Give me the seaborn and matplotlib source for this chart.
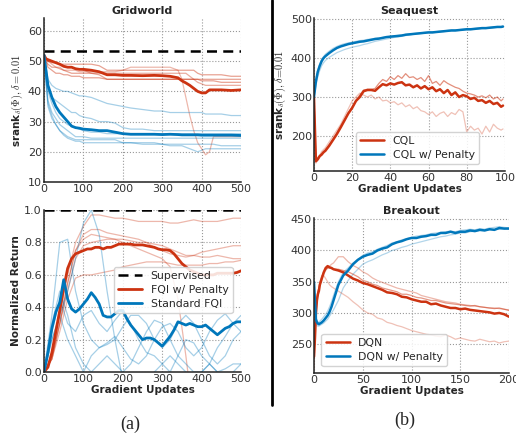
import matplotlib
matplotlib.use("Agg")
import matplotlib.pyplot as plt
import seaborn as sns
import numpy as np

# ---------------- DATA ----------------
RED = "#CC3311"
BLUE = "#0077BB"

# Gridworld srank
GW_X = [0, 5, 10, 20, 30, 40, 50, 60, 70, 80, 90, 100, 120, 140, 160, 180, 200, 220, 250,
        280, 300, 320, 340, 350, 360, 370, 380, 390, 400, 410, 420, 430, 450, 475, 500]
GW_SUPERVISED = 53.5
GW_RED_MEAN = [52, 50.8, 50.5, 50, 49.5, 49, 48.3, 48, 48, 47.5, 47.3, 47.3, 47, 46.5, 45.5, 45.5, 45.3,
               45.3, 45.2, 45.3, 45.2, 45, 44.5, 43.5, 42.8, 42, 41, 40, 39.5, 39.5, 40.5, 40.5, 40.5, 40.3, 40.5]
GW_RED_RUNS = [
    [52, 51, 50, 49.5, 49.5, 49, 49, 49, 49, 49, 49, 49, 49, 48.5, 47, 47, 47, 47, 47, 47, 47, 47, 47, 47,
     47, 47, 47, 46, 45.5, 45.5, 45.5, 45.5, 45.5, 45, 45],
    [52, 50, 48, 47, 46, 46, 45.5, 45.5, 45, 45, 45, 44.5, 44.5, 44.5, 44, 44, 44, 44, 44, 44, 44, 44, 44,
     44, 44, 44, 44, 44, 43.5, 43.5, 43.5, 43.5, 43, 43, 43],
    [52, 50.5, 50, 50, 49.5, 49, 48.5, 48, 48, 47.5, 47.5, 47, 46, 46, 46, 46, 46, 46, 46, 46, 46, 46, 46,
     46, 46, 45, 44, 43, 42.5, 42, 42, 42, 42, 42, 42],
    [52, 51, 50, 49, 48, 48, 47, 47, 47, 47, 46.5, 46.5, 46.5, 46.5, 46.5, 46.5, 47, 48, 48, 48, 48, 48, 47,
     44, 38, 32, 27, 23, 21, 19, 20, 25, 25, 25, 25],
    [52, 50, 49, 48, 48, 47.5, 47, 46.5, 46, 46, 46, 46, 46, 45.5, 44, 44, 44, 44, 44, 44, 44, 44, 44, 44,
     44, 44, 44, 44, 44, 44, 44, 44, 44, 44, 44],
]
GW_BLUE_MEAN = [52, 47, 42, 38, 35, 33, 31.5, 30, 28.5, 28, 27.8, 27.5, 27.3, 27, 27, 26.5, 26, 25.8, 25.8,
                25.8, 25.7, 25.8, 25.7, 25.6, 25.6, 25.6, 25.6, 25.6, 25.5, 25.5, 25.5, 25.5, 25.5, 25.5, 25.4]
GW_BLUE_RUNS = [
    [52, 48, 44, 42, 41, 40.5, 40, 40, 39.5, 39, 38.5, 38.5, 38, 37, 36, 35.5, 35, 34.5, 34, 33.5, 33.5,
     33, 33, 33, 33, 33, 33, 33, 33, 32.5, 32.5, 32.5, 32.5, 32, 32],
    [52, 46, 41, 38, 37, 36, 35, 34, 33, 33, 32, 31.5, 31, 30, 30, 29.5, 28, 27.5, 27.5, 27, 27, 27, 27,
     27, 27, 27, 27, 27, 27, 27, 27, 27, 27, 27, 27],
    [52, 44, 37, 33, 31, 29, 28, 27, 26, 25, 25, 25, 24.5, 24.5, 24.5, 24.5, 24.5, 24.5, 24.5, 24.5, 24.5,
     24.5, 24.5, 24.5, 24.5, 24.5, 24.5, 24.5, 24.5, 24.5, 24.5, 24.5, 24.5, 24.5, 24.5],
    [52, 44, 36, 32, 29, 27, 25.5, 24.5, 24, 23.5, 23.5, 23, 23, 23, 23, 23, 23, 23, 23, 23, 22.5, 22, 22,
     22, 21.5, 21, 20.5, 20, 20.5, 21, 21, 21, 21, 21, 21],
    [52, 43, 35, 31, 29, 27, 26, 25, 24.5, 24, 24, 24, 24, 24, 24, 24, 23, 23, 22.5, 22.5, 22.5, 22.5,
     22.5, 22.5, 22.5, 22.5, 22.5, 22.5, 22.5, 22.5, 22.5, 22.5, 22, 22, 22],
    [52, 45, 40, 36, 33, 31, 30, 29, 28.5, 28, 27.5, 27, 26.5, 26.5, 26, 26, 26, 26, 26, 26, 26, 26, 26,
     26, 26, 26, 26, 26, 26, 26, 26, 26, 26, 26, 26],
]

# Gridworld normalized return
RET_X = list(range(0, 501, 10))
RET_X_RUN = list(range(0, 501, 20))
RET_SUPERVISED = 1.0
RET_RED_MEAN = [0, 0.03, 0.12, 0.25, 0.38, 0.52, 0.64, 0.70, 0.73, 0.74, 0.75, 0.76, 0.76, 0.77, 0.77,
                0.76, 0.77, 0.77, 0.78, 0.79, 0.79, 0.79, 0.79, 0.785, 0.785, 0.785, 0.78, 0.775, 0.77,
                0.76, 0.755, 0.755, 0.75, 0.73, 0.70, 0.67, 0.65, 0.63, 0.62, 0.61, 0.60, 0.60, 0.60,
                0.60, 0.61, 0.61, 0.61, 0.61, 0.61, 0.615, 0.625]
RET_BLUE_MEAN = [0, 0.12, 0.27, 0.37, 0.43, 0.57, 0.45, 0.39, 0.37, 0.39, 0.42, 0.45, 0.49, 0.46, 0.42,
                 0.35, 0.34, 0.34, 0.36, 0.38, 0.38, 0.33, 0.29, 0.26, 0.23, 0.20, 0.21, 0.21, 0.20, 0.18,
                 0.16, 0.19, 0.22, 0.26, 0.31, 0.30, 0.29, 0.30, 0.29, 0.28, 0.28, 0.29, 0.27, 0.25, 0.23,
                 0.25, 0.27, 0.28, 0.30, 0.31, 0.31]
RET_RED_RUNS = [
    [0, 0.1, 0.35, 0.6, 0.8, 0.9, 0.97, 0.97, 0.96, 0.95, 0.95, 0.94, 0.93, 0.93, 0.93, 0.93, 0.92, 0.92,
     0.93, 0.94, 0.93, 0.93, 0.93, 0.94, 0.95, 0.95],
    [0, 0.1, 0.3, 0.55, 0.75, 0.85, 0.88, 0.88, 0.86, 0.85, 0.84, 0.83, 0.82, 0.80, 0.77, 0.75, 0.73, 0.72,
     0.71, 0.72, 0.74, 0.75, 0.76, 0.77, 0.78, 0.78],
    [0, 0.08, 0.3, 0.5, 0.7, 0.78, 0.8, 0.81, 0.82, 0.82, 0.82, 0.81, 0.80, 0.80, 0.79, 0.78, 0.76, 0.74,
     0.72, 0.72, 0.71, 0.71, 0.72, 0.71, 0.70, 0.70],
    [0, 0.08, 0.3, 0.55, 0.75, 0.82, 0.85, 0.84, 0.83, 0.82, 0.80, 0.78, 0.76, 0.74, 0.72, 0.70, 0.65,
     0.45, 0.1, -0.3, -0.5, -0.5, -0.5, -0.5, -0.5, -0.5],
    [0, 0.08, 0.25, 0.45, 0.58, 0.6, 0.6, 0.61, 0.62, 0.63, 0.65, 0.66, 0.67, 0.68, 0.68, 0.68, 0.67, 0.66,
     0.66, 0.66, 0.66, 0.67, 0.67, 0.68, 0.68, 0.69],
]
RET_BLUE_RUNS = [
    [0, 0.35, 0.8, 0.82, 0.5, 0.3, 0.2, 0.15, 0.18, 0.22, 0.15, 0.08, 0.05, 0.1, 0.2, 0.28, 0.3, 0.25,
     0.15, 0.1, 0.15, 0.25, 0.32, 0.36, 0.3, 0.25],
    [0, 0.2, 0.35, 0.5, 0.7, 0.92, 1.0, 0.85, 0.5, 0.2, -0.05, -0.2, -0.2, -0.1, 0.0, 0.05, 0.1, 0.05,
     0.0, -0.05, 0.0, 0.05, 0.0, -0.05, 0.0, 0.05],
    [0, 0.25, 0.45, 0.3, 0.25, 0.35, 0.38, 0.3, 0.25, 0.32, 0.38, 0.3, 0.2, 0.12, 0.1, 0.05, 0.0, 0.1,
     0.2, 0.18, 0.1, 0.05, 0.0, 0.02, 0.05, 0.05],
    [0, 0.2, 0.35, 0.2, 0.1, 0.0, 0.1, 0.15, 0.17, 0.2, 0.28, 0.35, 0.35, 0.3, 0.2, 0.15, 0.2, 0.3, 0.35,
     0.3, 0.2, 0.1, 0.05, 0.1, 0.2, 0.25],
    [0, 0.3, 0.5, 0.35, 0.15, 0.05, 0.0, 0.05, 0.1, 0.05, 0.0, 0.05, 0.15, 0.25, 0.32, 0.3, 0.2, 0.1,
     0.05, 0.0, 0.0, 0.05, 0.15, 0.22, 0.3, 0.35],
]

# Seaquest srank
SQ_X = [0, 1, 2, 3, 4, 5, 6] + list(range(8, 99, 2)) + [99]
SQ_BLUE_MEAN = [300, 340, 365, 380, 392, 400, 405, 413, 420, 426, 430, 433, 436, 438, 440, 442, 443, 445,
                447, 449, 450, 452, 454, 455, 456, 457, 458, 460, 461, 462, 463, 464, 465, 466, 466, 467,
                468, 469, 470, 471, 471, 472, 473, 474, 474, 475, 476, 477, 477, 478, 479, 480, 480, 481]
SQ_BLUE_RUNS = [
    [300, 330, 352, 368, 380, 388, 394, 402, 408, 414, 418, 422, 425, 428, 430, 432, 435, 437, 440, 443,
     445, 447, 449, 451, 453, 454, 456, 458, 459, 461, 462, 463, 464, 465, 465, 466, 467, 468, 469, 470,
     470, 471, 472, 473, 473, 474, 475, 476, 476, 477, 478, 479, 479, 480],
    [300, 345, 370, 385, 396, 404, 410, 418, 425, 430, 434, 437, 439, 441, 443, 445, 446, 448, 449, 451,
     452, 453, 455, 456, 457, 458, 459, 461, 462, 463, 464, 465, 466, 467, 467, 468, 469, 470, 471, 472,
     472, 473, 474, 475, 475, 476, 477, 478, 478, 479, 480, 481, 481, 482],
]
SQ_RED_MEAN = [300, 135, 140, 148, 152, 158, 162, 175, 190, 205, 222, 240, 258, 272, 290, 300, 315, 318,
               318, 316, 325, 333, 330, 335, 332, 336, 338, 330, 332, 325, 330, 322, 328, 320, 325, 315,
               320, 310, 318, 305, 312, 300, 305, 302, 295, 298, 290, 292, 285, 290, 282, 285, 275, 278]
SQ_RED_RUNS = [
    [300, 140, 145, 150, 155, 160, 165, 178, 192, 208, 225, 242, 260, 275, 292, 305, 318, 320, 320, 322,
     335, 345, 340, 352, 345, 355, 348, 360, 350, 352, 345, 350, 340, 355, 335, 340, 330, 342, 335, 330,
     325, 322, 315, 310, 308, 305, 300, 303, 298, 305, 295, 300, 290, 295],
    [300, 130, 140, 150, 160, 165, 170, 185, 200, 215, 230, 250, 270, 290, 300, 310, 305, 300, 305, 295,
     300, 290, 292, 285, 288, 280, 285, 275, 280, 270, 275, 265, 262, 255, 262, 250, 258, 262, 250, 260,
     255, 268, 262, 210, 225, 215, 220, 205, 225, 210, 230, 220, 215, 218],
]

# Breakout srank
BK_X = [0, 1, 2, 3, 4, 5, 6, 8, 10, 12, 14, 16, 18] + list(range(20, 201, 5))
BK_BLUE_MEAN = [350, 320, 290, 285, 283, 282, 283, 285, 288, 292, 296, 302, 310, 320, 345, 360, 368, 378,
                385, 390, 393, 395, 400, 403, 405, 410, 413, 415, 418, 420, 420, 422, 423, 425, 425, 428,
                428, 430, 428, 430, 430, 432, 431, 433, 432, 434, 433, 436, 435, 435]
BK_BLUE_RUNS = [
    [350, 310, 285, 280, 279, 279, 280, 282, 284, 287, 290, 295, 300, 305, 320, 340, 352, 362, 370, 378,
     382, 385, 389, 393, 396, 400, 402, 405, 407, 410, 412, 414, 416, 418, 420, 422, 423, 425, 426, 428,
     428, 430, 431, 432, 432, 433, 434, 434, 435, 436],
    [350, 315, 292, 288, 286, 285, 287, 290, 294, 298, 303, 310, 318, 328, 350, 365, 372, 380, 386, 392,
     396, 398, 402, 405, 408, 412, 414, 417, 419, 421, 423, 424, 425, 427, 428, 429, 430, 431, 430, 432,
     433, 434, 433, 435, 434, 436, 437, 438, 437, 436],
]
BK_RED_MEAN = [230, 260, 300, 320, 330, 335, 345, 355, 365, 372, 375, 373, 372, 370, 368, 365, 360, 355,
               352, 348, 346, 343, 340, 337, 333, 332, 330, 326, 325, 322, 320, 318, 318, 314, 315, 312,
               310, 308, 308, 306, 307, 305, 304, 303, 302, 301, 299, 300, 298, 294]
BK_RED_RUNS = [
    [240, 270, 300, 320, 330, 338, 345, 355, 362, 368, 372, 375, 378, 380, 390, 390, 382, 376, 372, 366,
     362, 356, 352, 349, 346, 343, 340, 338, 336, 334, 332, 328, 326, 324, 322, 320, 318, 317, 316, 314,
     313, 312, 311, 310, 309, 308, 308, 307, 306, 305],
    [235, 265, 305, 325, 335, 340, 348, 358, 366, 370, 372, 372, 371, 370, 370, 368, 366, 362, 358, 352,
     350, 346, 344, 340, 338, 336, 334, 330, 330, 328, 325, 324, 322, 320, 320, 318, 316, 315, 314, 313,
     312, 311, 312, 310, 309, 308, 307, 308, 306, 304],
    [210, 250, 290, 315, 335, 340, 350, 360, 360, 355, 350, 345, 342, 340, 335, 330, 325, 318, 312, 305,
     300, 298, 292, 290, 285, 283, 280, 278, 275, 272, 270, 268, 266, 265, 263, 262, 265, 262, 258, 260,
     258, 256, 255, 258, 256, 254, 255, 252, 254, 255],
]

# ---------------- STYLE ----------------
sns.set_theme(style="whitegrid")
plt.rcParams["font.family"] = ["DejaVu Sans"]
plt.rcParams["mathtext.fontset"] = "cm"

TICK_FS = 8
LAB_FS = 7.5
TITLE_FS = 8
LEG_FS = 7.8

fig = plt.figure(figsize=(5.16, 4.4), dpi=100)
ax_gw = fig.add_axes([0.0853, 0.5864, 0.3818, 0.3727])
ax_ret = fig.add_axes([0.0853, 0.1545, 0.3818, 0.368])
ax_sq = fig.add_axes([0.6085, 0.6114, 0.370, 0.3477])
ax_bk = fig.add_axes([0.6085, 0.1523, 0.378, 0.3523])


def style_ax(ax):
    for s in ["top", "right"]:
        ax.spines[s].set_visible(False)
    for s in ["left", "bottom"]:
        ax.spines[s].set_color("#222222")
        ax.spines[s].set_linewidth(1.1)
    ax.tick_params(labelsize=TICK_FS, colors="#333333", pad=1.5, length=0)
    ax.grid(True, linestyle=":", color="#999999", linewidth=0.8)


def runs(ax, x, ys, color, alphas, lw=0.9):
    for y, a in zip(ys, alphas):
        sns.lineplot(x=x, y=y, ax=ax, color=color, alpha=a, lw=lw, legend=False)


# Gridworld srank
runs(ax_gw, GW_X, GW_RED_RUNS, RED, [0.45, 0.45, 0.4, 0.35, 0.45])
runs(ax_gw, GW_X, GW_BLUE_RUNS, BLUE, [0.35] * 6)
sns.lineplot(x=GW_X, y=GW_RED_MEAN, ax=ax_gw, color=RED, lw=2.0)
sns.lineplot(x=GW_X, y=GW_BLUE_MEAN, ax=ax_gw, color=BLUE, lw=2.0)
ax_gw.axhline(GW_SUPERVISED, color="black", ls=(0, (4, 2.5)), lw=1.8)
ax_gw.set_xlim(0, 500)
ax_gw.set_ylim(10, 64.3)
ax_gw.set_xticks([0, 100, 200, 300, 400, 500])
ax_gw.set_yticks([10, 20, 30, 40, 50, 60])
ax_gw.set_title("Gridworld", fontsize=TITLE_FS, fontweight="bold", pad=3)
ax_gw.set_ylabel(r"srank$_\delta(\Phi), \delta = 0.01$", fontsize=LAB_FS, fontweight="bold", labelpad=2)
style_ax(ax_gw)

# Normalized return
runs(ax_ret, RET_X_RUN, RET_RED_RUNS, RED, [0.35] * 5)
runs(ax_ret, RET_X_RUN, RET_BLUE_RUNS, BLUE, [0.35] * 5)
ax_ret.axhline(RET_SUPERVISED, color="black", ls=(0, (4, 2.5)), lw=1.8, label="Supervised")
sns.lineplot(x=RET_X, y=RET_RED_MEAN, ax=ax_ret, color=RED, lw=2.0, label="FQI w/ Penalty")
sns.lineplot(x=RET_X, y=RET_BLUE_MEAN, ax=ax_ret, color=BLUE, lw=2.0, label="Standard FQI")
ax_ret.set_xlim(0, 500)
ax_ret.set_ylim(0, 1.0)
ax_ret.set_xticks([0, 100, 200, 300, 400, 500])
ax_ret.set_yticks([0, 0.2, 0.4, 0.6, 0.8, 1.0])
ax_ret.set_yticklabels(["0.0", "0.2", "0.4", "0.6", "0.8", "1.0"])
ax_ret.set_xlabel("Gradient Updates", fontsize=LAB_FS, fontweight="bold", labelpad=1)
ax_ret.set_ylabel("Normalized Return", fontsize=LAB_FS, fontweight="bold", labelpad=2)
style_ax(ax_ret)
ax_ret.legend(loc="lower right", bbox_to_anchor=(0.985, 0.33), fontsize=LEG_FS, frameon=True,
              framealpha=0.85, edgecolor="#cccccc", handlelength=2.2, borderpad=0.4, labelspacing=0.35)

# Seaquest
runs(ax_sq, SQ_X, SQ_BLUE_RUNS, BLUE, [0.3, 0.3])
runs(ax_sq, SQ_X, SQ_RED_RUNS, RED, [0.55, 0.3])
sns.lineplot(x=SQ_X, y=SQ_RED_MEAN, ax=ax_sq, color=RED, lw=1.8, label="CQL")
sns.lineplot(x=SQ_X, y=SQ_BLUE_MEAN, ax=ax_sq, color=BLUE, lw=1.8, label="CQL w/ Penalty")
ax_sq.set_xlim(0, 100)
ax_sq.set_ylim(110, 503)
ax_sq.set_xticks([0, 20, 40, 60, 80, 100])
ax_sq.set_yticks([200, 300, 400, 500])
ax_sq.set_title("Seaquest", fontsize=TITLE_FS, fontweight="bold", pad=3)
ax_sq.set_xlabel("Gradient Updates", fontsize=LAB_FS, fontweight="bold", labelpad=1)
ax_sq.set_ylabel(r"srank$_\delta(\Phi), \delta\!=\!0.01$", fontsize=LAB_FS, fontweight="bold", labelpad=2)
style_ax(ax_sq)
ax_sq.legend(loc="lower left", bbox_to_anchor=(0.19, 0.01), fontsize=LEG_FS, frameon=True,
             framealpha=0.85, edgecolor="#cccccc", handlelength=2.2, borderpad=0.4, labelspacing=0.35)

# Breakout
runs(ax_bk, BK_X, BK_BLUE_RUNS, BLUE, [0.3, 0.3])
runs(ax_bk, BK_X, BK_RED_RUNS, RED, [0.35, 0.5, 0.3])
sns.lineplot(x=BK_X, y=BK_RED_MEAN, ax=ax_bk, color=RED, lw=1.8, label="DQN")
sns.lineplot(x=BK_X, y=BK_BLUE_MEAN, ax=ax_bk, color=BLUE, lw=1.8, label="DQN w/ Penalty")
ax_bk.set_xlim(0, 200)
ax_bk.set_ylim(204, 452)
ax_bk.set_xticks([0, 50, 100, 150, 200])
ax_bk.set_yticks([250, 300, 350, 400, 450])
ax_bk.set_title("Breakout", fontsize=TITLE_FS, fontweight="bold", pad=3)
ax_bk.set_xlabel("Gradient Updates", fontsize=LAB_FS, fontweight="bold", labelpad=1)
ax_bk.set_ylabel("")
style_ax(ax_bk)
ax_bk.legend(loc="lower left", bbox_to_anchor=(0.01, 0.01), fontsize=LEG_FS, frameon=True,
             framealpha=0.85, edgecolor="#cccccc", handlelength=2.2, borderpad=0.4, labelspacing=0.35)

# separator and panel labels
fig.add_artist(plt.Line2D([0.527, 0.527], [0.08, 1.0], color="black", lw=2.0, transform=fig.transFigure))
fig.text(0.252, 0.035, "(a)", fontsize=13, family="Liberation Serif", ha="center", va="center")
fig.text(0.785, 0.045, "(b)", fontsize=13, family="Liberation Serif", ha="center", va="center")

fig.savefig("out.png", dpi=100)
